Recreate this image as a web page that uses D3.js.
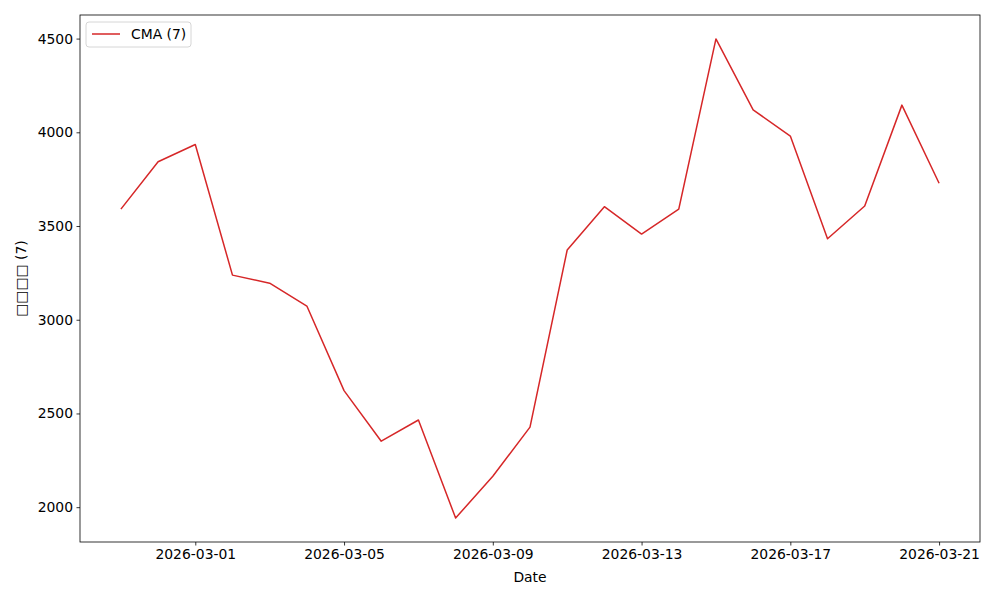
<!DOCTYPE html>
<html><head><meta charset="utf-8">
<script src="https://cdn.jsdelivr.net/npm/d3@7"></script>
<style>body{margin:0;background:#fff;} text{font-family:"DejaVu Sans",sans-serif;}</style>
</head><body>
<svg id="c" width="1000" height="600"></svg>
<script>
const dates = ["2026-02-27","2026-02-28","2026-03-01","2026-03-02","2026-03-03","2026-03-04","2026-03-05","2026-03-06","2026-03-07","2026-03-08","2026-03-09","2026-03-10","2026-03-11","2026-03-12","2026-03-13","2026-03-14","2026-03-15","2026-03-16","2026-03-17","2026-03-18","2026-03-19","2026-03-20","2026-03-21"];
const cmaValues = [3590,3843,3935,3238,3195,3073,2622,2352,2465,1942,2165,2427,3372,3603,3457,3590,4498,4120,3980,3432,3607,4145,3728];
const xTickLabels = ["2026-03-01","2026-03-05","2026-03-09","2026-03-13","2026-03-17","2026-03-21"];
const yTicks = [2000,2500,3000,3500,4000,4500];
const seriesName = "CMA (7)";
const xLabel = "Date";
const yLabel = "\u25A1\u25A1\u25A1\u25A1 (7)";

const FS = 13.9;
const parse = d3.utcParse("%Y-%m-%d");
const data = dates.map((d,i)=>({date:parse(d), v:cmaValues[i]}));
const L=80, R=980, T=15, B=542;
const svg = d3.select("#c");
const x0 = data[0].date.getTime(), x1 = data[data.length-1].date.getTime();
const xm = (x1-x0)*0.05;
const x = d3.scaleUtc().domain([new Date(x0-xm), new Date(x1+xm)]).range([L,R]);
const vmin = d3.min(cmaValues), vmax = d3.max(cmaValues), ym=(vmax-vmin)*0.05;
const y = d3.scaleLinear().domain([vmin-ym, vmax+ym]).range([B,T]);

const line = d3.line().x(d=>x(d.date)).y(d=>y(d.v));
svg.append("path").datum(data).attr("d",line).attr("fill","none").attr("stroke","#d62728").attr("stroke-width",1.5).attr("stroke-linejoin","round");

const xa = svg.append("g").attr("transform",`translate(0,${B})`)
  .call(d3.axisBottom(x).tickValues(xTickLabels.map(parse)).tickFormat(d3.utcFormat("%Y-%m-%d")).tickSize(3.5).tickPadding(3.5));
const ya = svg.append("g").attr("transform",`translate(${L},0)`)
  .call(d3.axisLeft(y).tickValues(yTicks).tickFormat(d3.format("d")).tickSize(3.5).tickPadding(3.5));
[xa,ya].forEach(a=>{a.attr("font-size",FS).attr("font-family","DejaVu Sans"); a.select(".domain").remove(); a.selectAll("text").attr("fill","#000"); a.selectAll("line").attr("stroke","#000").attr("stroke-width",0.8);});

svg.append("rect").attr("x",L).attr("y",T).attr("width",R-L).attr("height",B-T).attr("fill","none").attr("stroke","#000").attr("stroke-width",0.8);

svg.append("text").attr("x",(L+R)/2).attr("y",582).attr("text-anchor","middle").attr("font-size",FS).text(xLabel);
svg.append("text").attr("transform",`translate(26,${(T+B)/2}) rotate(-90)`).attr("text-anchor","middle").attr("font-size",FS).text(yLabel);

const lg = svg.append("g").attr("transform","translate(86,22)");
lg.append("rect").attr("width",105).attr("height",25).attr("rx",3).attr("fill","#fff").attr("fill-opacity",0.8).attr("stroke","#ccc").attr("stroke-width",0.8);
lg.append("line").attr("x1",6).attr("x2",34).attr("y1",12).attr("y2",12).attr("stroke","#d62728").attr("stroke-width",1.5);
lg.append("text").attr("x",45).attr("y",17).attr("font-size",FS).text(seriesName);
</script>
</body></html>
